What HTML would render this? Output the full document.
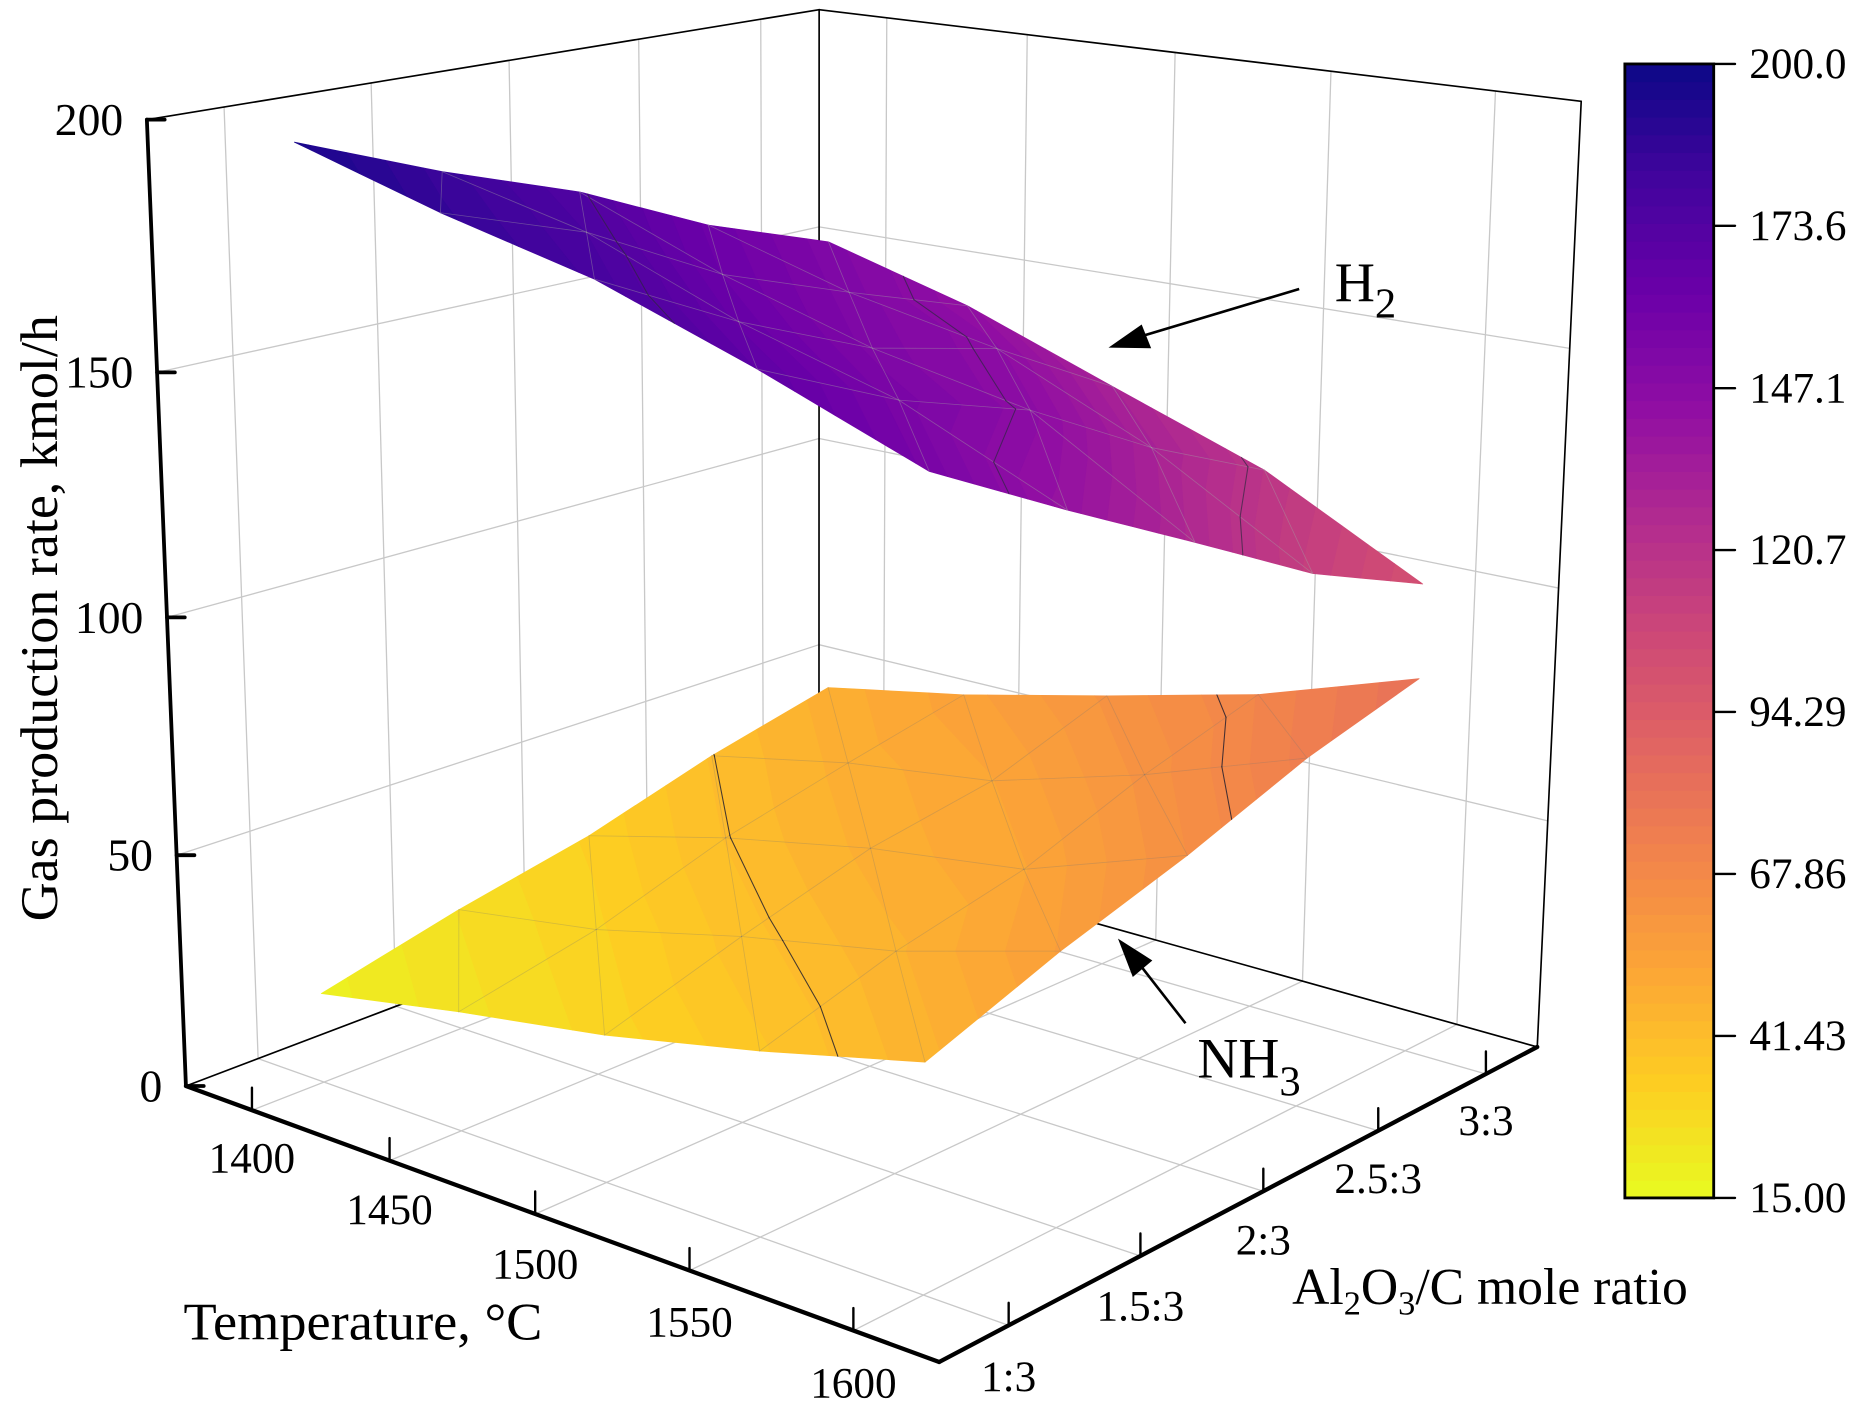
<!DOCTYPE html>
<html lang="en">
<head>
<meta charset="utf-8">
<title>Gas production rate surface chart</title>
<style>
html,body{margin:0;padding:0;background:#fff;}
svg{display:block;width:1857px;height:1410px;background:#fff;font-family:"Liberation Serif","Times New Roman",serif;fill:#000;}
</style>
</head>
<body>
<svg id="chart" xmlns="http://www.w3.org/2000/svg" viewBox="0 0 1568 1190.56">
  <g id="grid"></g>
  <g id="frame"></g>
  <g id="nh3"></g>
  <g id="h2"></g>
  <g id="axes"></g>
  <g id="colorbar"></g>

  <text transform="translate(48,778) rotate(-90)" font-size="45" textLength="512" lengthAdjust="spacingAndGlyphs">Gas production rate, kmol/h</text>
  <text x="155" y="1131" font-size="45" textLength="303" lengthAdjust="spacingAndGlyphs">Temperature, °C</text>
  <text x="1091" y="1101" font-size="43.6">Al<tspan font-size="29" dy="9">2</tspan><tspan dy="-9">O</tspan><tspan font-size="29" dy="9">3</tspan><tspan dy="-9">/C mole ratio</tspan></text>

  <text x="1127" y="254" font-size="47">H<tspan font-size="36" dy="14">2</tspan></text>
  <line x1="1097" y1="244" x2="960" y2="285" stroke="#000" stroke-width="2.2"/>
  <polygon points="936,293.5 964,274 972,294" fill="#000"/>

  <text x="1011" y="910" font-size="48">NH<tspan font-size="36" dy="15">3</tspan></text>
  <line x1="1001" y1="864" x2="962" y2="814" stroke="#000" stroke-width="2.2"/>
  <polygon points="944,792.5 973,811 956.5,825" fill="#000"/>

<script>
// ---- chart data ----
const temperatures = [1400, 1450, 1500, 1550, 1600];
const ratios = [1, 1.5, 2, 2.5, 3];
const ratioLabels = ["1:3", "1.5:3", "2:3", "2.5:3", "3:3"];
const rateTicks = [0, 50, 100, 150, 200];
// rows: temperature, columns: Al2O3/C ratio
const h2Rates = [
  [195.3, 184.1, 174.4, 161.6, 152.0],
  [186.4, 176.8, 162.2, 152.2, 142.9],
  [179.0, 164.5, 152.6, 145.8, 130.8],
  [168.0, 155.2, 146.1, 131.2, 118.9],
  [155.7, 140.8, 126.6, 112.1, 101.5]
];
const nh3Rates = [
  [19.4, 26.7, 32.8, 41.3, 48.0],
  [25.4, 31.7, 41.2, 48.0, 54.2],
  [30.6, 39.7, 47.8, 52.4, 61.9],
  [37.6, 46.2, 52.3, 62.2, 70.1],
  [45.7, 55.8, 64.2, 74.1, 81.4]
];
const colorbarValues = [200, 173.6, 147.1, 120.7, 94.29, 67.86, 41.43, 15];
const colorbarLabels = ["200.0", "173.6", "147.1", "120.7", "94.29", "67.86", "41.43", "15.00"];
const contourLevels = [173.6, 147.1, 120.7, 94.29, 67.86, 41.43];
const plasmaStops = ["#0d0887","#41049d","#6a00a8","#8f0da4","#b12a90","#cc4778","#e16462","#f2844b","#fca636","#fdce22","#e8fb21"];
const colorMin = 15;
const colorMax = 200;
const colorLevels = 64;

// ---- scales ----
const NS = "http://www.w3.org/2000/svg";
function tScale(t){ return (t - 1375) / 250; }
function rScale(r){ return (r - 0.75) / 2.5; }
function zScale(v){ return v / 200; }
// perspective projection of the unit box onto the page
function project(a, b, c){
  const w = 1 - 0.13549 * a + 0.15859 * b - 0.0586 * c;
  return {
    x: (528.56 * a + 642.43 * b + 157 - 40.26 * c) / w + 1.5 * b * (1 - a),
    y: (77.19 * a - 89.77 * b + 917 - 821.9 * c) / w + 3.3 * b * (1 - a) * c
  };
}
function make(tag, parent){
  const e = document.createElementNS(NS, tag);
  parent.appendChild(e);
  return e;
}
function drawLine(parent, p, q, color, width){
  const l = make("line", parent);
  l.setAttribute("x1", p.x.toFixed(2));
  l.setAttribute("y1", p.y.toFixed(2));
  l.setAttribute("x2", q.x.toFixed(2));
  l.setAttribute("y2", q.y.toFixed(2));
  l.setAttribute("stroke", color);
  l.setAttribute("stroke-width", width);
  l.setAttribute("stroke-linecap", "round");
  return l;
}
function drawText(parent, str, x, y, anchor, size){
  const t = make("text", parent);
  t.setAttribute("x", x.toFixed(1));
  t.setAttribute("y", y.toFixed(1));
  t.setAttribute("text-anchor", anchor);
  t.setAttribute("font-size", size);
  t.textContent = str;
  return t;
}
function hexRgb(h){ return [1,3,5].map(function(i){ return parseInt(h.substr(i,2),16); }); }
function plasma(t){
  const s = Math.max(0, Math.min(1, t)) * (plasmaStops.length - 1);
  const i = Math.min(plasmaStops.length - 2, Math.floor(s));
  const c1 = hexRgb(plasmaStops[i]);
  const c2 = hexRgb(plasmaStops[i + 1]);
  const f = s - i;
  return "rgb(" + c1.map(function(v, k){ return Math.round(v + (c2[k] - v) * f); }).join(",") + ")";
}
function bandColor(k){ return plasma(1 - (k + 0.5) / colorLevels); }

const gridG = document.getElementById("grid");
const frameG = document.getElementById("frame");
const axesG = document.getElementById("axes");
const barG = document.getElementById("colorbar");
const GRID = "#c8c8c8";

// ---- grid lines ----
temperatures.forEach(function(T){
  const a = tScale(T);
  const floorLine = drawLine(gridG, project(a,0,0), project(a,1,0), GRID, 1.1);
  
  
  const wallLine = drawLine(gridG, project(a,1,0), project(a,1,1), GRID, 1.1);
  
  
});
ratios.forEach(function(R){
  const b = rScale(R);
  const floorLine = drawLine(gridG, project(0,b,0), project(1,b,0), GRID, 1.1);
  
  
  const wallLine = drawLine(gridG, project(0,b,0), project(0,b,1), GRID, 1.1);
  
  
});
rateTicks.slice(1, -1).forEach(function(v){
  const c = zScale(v);
  const leftLine = drawLine(gridG, project(0,0,c), project(0,1,c), GRID, 1.1);
  
  
  const rightLine = drawLine(gridG, project(0,1,c), project(1,1,c), GRID, 1.1);
  
  
});

// ---- thin box frame ----
[[[0,0,1],[0,1,1]], [[0,1,1],[1,1,1]], [[1,1,1],[1,1,0]], [[0,1,0],[0,1,1]], [[0,0,0],[0,1,0]], [[0,1,0],[1,1,0]]].forEach(function(s){
  const edge = drawLine(frameG, project.apply(null, s[0]), project.apply(null, s[1]), "#000", 1.4);
  
  
});

// ---- surfaces ----
function clip(poly, limit, keepAbove){
  const out = [];
  for (let i = 0; i < poly.length; i++){
    const p = poly[i];
    const q = poly[(i + 1) % poly.length];
    const pIn = keepAbove ? p.z >= limit : p.z <= limit;
    const qIn = keepAbove ? q.z >= limit : q.z <= limit;
    if (pIn) out.push(p);
    if (pIn !== qIn){
      const f = (limit - p.z) / (q.z - p.z);
      out.push({x: p.x + (q.x - p.x) * f, y: p.y + (q.y - p.y) * f, z: limit});
    }
  }
  return out;
}
function drawSurface(group, rates, prefix){
  const verts = rates.map(function(row, i){
    return row.map(function(v, j){
      const p = project(tScale(temperatures[i]), rScale(ratios[j]), zScale(v));
      return {x: p.x, y: p.y, z: v};
    });
  });
  const tris = [];
  for (let i = 0; i < verts.length - 1; i++){
    for (let j = 0; j < verts[i].length - 1; j++){
      tris.push([verts[i][j], verts[i+1][j], verts[i][j+1]]);
      tris.push([verts[i+1][j], verts[i+1][j+1], verts[i][j+1]]);
    }
  }
  const step = (colorMax - colorMin) / colorLevels;
  tris.forEach(function(tri){
    for (let k = 0; k < colorLevels; k++){
      const lo = colorMin + k * step;
      const hi = lo + step;
      let poly = clip(tri, lo, true);
      if (poly.length < 3) continue;
      poly = clip(poly, hi, false);
      if (poly.length < 3) continue;
      const pg = make("polygon", group);
      
      
      pg.setAttribute("points", poly.map(function(p){ return p.x.toFixed(2) + "," + p.y.toFixed(2); }).join(" "));
      pg.setAttribute("fill", bandColor(k));
      pg.setAttribute("stroke", bandColor(k));
      pg.setAttribute("stroke-width", "0.6");
      pg.setAttribute("stroke-linejoin", "round");
    }
  });
  // mesh lines (inner only)
  const meshColor = prefix === "h2" ? "rgba(165,165,165,0.42)" : "rgba(120,120,120,0.28)";
  for (let i = 0; i < verts.length; i++){
    for (let j = 0; j < verts[i].length; j++){
      if (i + 1 < verts.length && j > 0 && j < verts[i].length - 1){
        const m1 = drawLine(group, verts[i][j], verts[i+1][j], meshColor, 0.7);
        
        
      }
      if (j + 1 < verts[i].length && i > 0 && i < verts.length - 1){
        const m2 = drawLine(group, verts[i][j], verts[i][j+1], meshColor, 0.7);
        
        
      }
      if (i + 1 < verts.length && j + 1 < verts[i].length){
        const m3 = drawLine(group, verts[i+1][j], verts[i][j+1], meshColor, 0.7);
        
        
      }
    }
  }
  // contour lines at the colour bar tick levels
  tris.forEach(function(tri){
    contourLevels.forEach(function(level){
      const pts = [];
      for (let e = 0; e < 3; e++){
        const p = tri[e];
        const q = tri[(e + 1) % 3];
        if ((p.z - level) * (q.z - level) < 0){
          const f = (level - p.z) / (q.z - p.z);
          pts.push({x: p.x + (q.x - p.x) * f, y: p.y + (q.y - p.y) * f});
        }
      }
      if (pts.length === 2){
        const ct = drawLine(group, pts[0], pts[1], prefix === "h2" ? "rgba(40,40,60,0.65)" : "rgba(25,25,45,0.8)", 0.9);
        
        
      }
    });
  });
}
drawSurface(document.getElementById("nh3"), nh3Rates, "nh3");
drawSurface(document.getElementById("h2"), h2Rates, "h2");

// ---- thick axes ----
const rateAxis = drawLine(axesG, project(0,0,0), project(0,0,1), "#000", 3.2);


const tempAxis = drawLine(axesG, project(0,0,0), project(1,0,0), "#000", 3.6);


const ratioAxis = drawLine(axesG, project(1,0,0), project(1,1,0), "#000", 3.6);



rateTicks.forEach(function(v){
  const p = project(0, 0, zScale(v));
  const tk = drawLine(axesG, p, {x: p.x + 15, y: p.y}, "#000", 3.2);
  
  
  const lb = drawText(axesG, String(v), p.x - 20, p.y + 13, "end", 38.5);
  
  
});
temperatures.forEach(function(T){
  const a = tScale(T);
  const p = project(a, 0, 0);
  const tk = drawLine(axesG, p, {x: p.x, y: p.y - 19}, "#000", 2);
  
  
  const lb = drawText(axesG, String(T), p.x, p.y + 52 + 5 * a, "middle", 36.5);
  
  
});
ratios.forEach(function(R, i){
  const b = rScale(R);
  const p = project(1, b, 0);
  const tk = drawLine(axesG, p, {x: p.x, y: p.y - 19}, "#000", 2);
  
  
  const lb = drawText(axesG, ratioLabels[i], p.x, p.y + 56 - 5 * b, "middle", 36.5);
  
  
});

// ---- colour bar ----
function barY(v){ return 54 + (colorMax - v) / (colorMax - colorMin) * 957.5; }
for (let k = 0; k < colorLevels; k++){
  const step = (colorMax - colorMin) / colorLevels;
  const yTop = barY(colorMin + (k + 1) * step);
  const yBot = barY(colorMin + k * step);
  const band = make("rect", barG);
  
  
  band.setAttribute("x", 1372);
  band.setAttribute("y", yTop.toFixed(2));
  band.setAttribute("width", 75);
  band.setAttribute("height", (yBot - yTop + 0.4).toFixed(2));
  band.setAttribute("fill", bandColor(k));
}
const barFrame = make("rect", barG);


barFrame.setAttribute("x", 1372);
barFrame.setAttribute("y", barY(colorMax));
barFrame.setAttribute("width", 75);
barFrame.setAttribute("height", barY(colorMin) - barY(colorMax));
barFrame.setAttribute("fill", "none");
barFrame.setAttribute("stroke", "#000");
barFrame.setAttribute("stroke-width", 2.4);
colorbarValues.forEach(function(v, i){
  const y = barY(v);
  const tk = drawLine(barG, {x: 1447, y: y}, {x: 1465, y: y}, "#000", 2);
  
  
  const lb = drawText(barG, colorbarLabels[i], 1477, y + 12, "start", 36.5);
  
  
});
</script>
</svg>
</body>
</html>
